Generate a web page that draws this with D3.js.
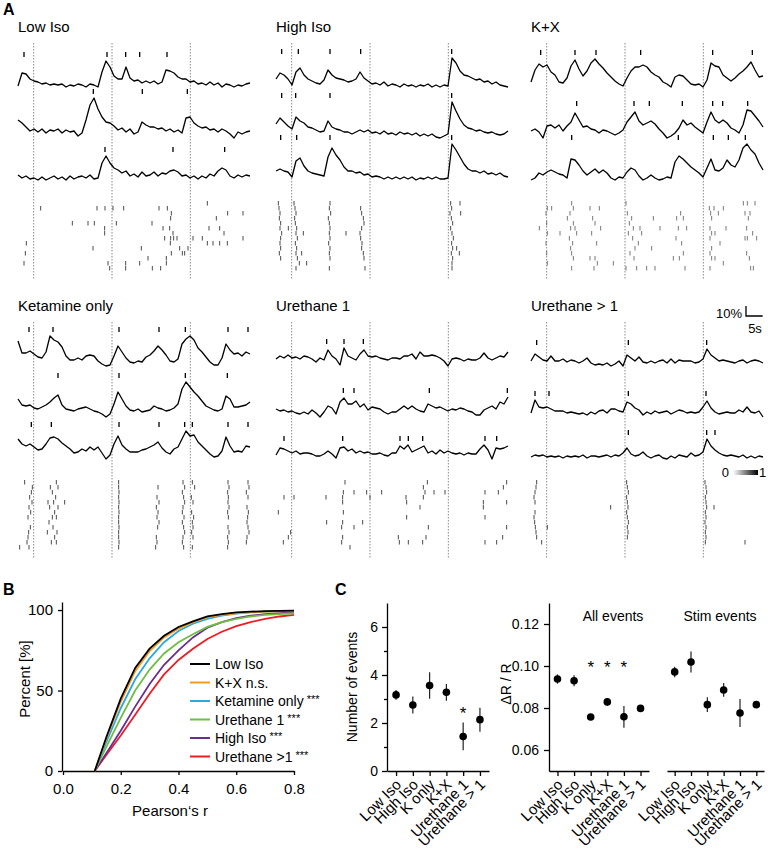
<!DOCTYPE html>
<html>
<head>
<meta charset="utf-8">
<script src="https://cdn.jsdelivr.net/npm/d3@7"></script>
<style>
  body { margin: 0; background: #fff; }
  svg { display: block; font-family: Arial, "Liberation Sans", Helvetica, sans-serif; }
  .axis path, .axis line { stroke: #000; stroke-width: 1.3; fill: none; }
  .axis text { fill: #000; font-family: Arial, "Liberation Sans", sans-serif; }
</style>
</head>
<body>
<svg id="fig" width="768" height="850"></svg>
<script>
// ---- panel A data (traces in % dR/R, one sample every 1.2 s) ----
var stimTimes = [4.7, 28.2, 51.7];
var panelTitles = ["Low Iso", "High Iso", "K+X", "Ketamine only", "Urethane 1", "Urethane > 1"];

var lowIsoTraces = [
  [0,13,12,7,5,4,2,3,1,2,1,2,-1,1,0,2,1,-1,2,1,-1,14,25,19,10,7,7,19,8,5,6,3,5,3,5,2,4,16,15,13,9,7,7,4,5,2,3,1,4,1,3,-1,2,1,-1,1,0,2,3],
  [10,7,3,-1,1,-2,1,-3,0,-1,1,-3,0,-2,-1,-6,-3,10,25,32,21,13,8,7,4,0,2,-2,1,-4,-2,8,5,3,3,1,2,-1,1,-2,0,-3,12,13,7,4,2,3,0,1,-2,1,-1,-4,-8,-2,-4,-2,-1],
  [4,1,3,0,1,-1,2,-1,1,3,0,2,-1,3,0,2,3,1,4,0,1,16,23,16,11,9,6,8,3,5,2,7,3,4,7,3,6,5,8,9,7,3,4,1,3,0,3,1,5,3,8,11,9,3,1,4,2,4,3]
];
var highIsoTraces = [
  [8,14,12,8,2,15,19,12,8,6,4,3,7,17,12,9,8,7,5,6,8,15,9,6,3,4,2,5,1,3,2,0,3,1,2,0,2,1,3,0,2,0,2,1,29,24,16,12,11,9,7,8,5,6,3,5,2,1,0],
  [11,17,13,9,6,18,14,12,8,7,5,3,4,14,8,6,5,3,3,1,3,5,3,5,2,3,1,4,1,2,0,3,1,2,0,2,-1,1,-1,1,-2,-3,-1,1,33,24,16,10,7,6,4,5,3,2,3,1,0,1,4],
  [8,10,8,7,2,18,21,13,8,6,5,4,3,22,31,24,19,12,8,8,6,7,4,5,2,3,2,0,2,0,2,0,2,0,2,-1,1,0,2,0,2,0,0,1,35,29,22,15,10,8,8,6,8,5,6,4,6,3,2]
];
var kxTraces = [
  [3,15,21,18,20,13,10,3,2,7,19,25,16,9,14,22,26,21,17,12,8,4,1,-1,7,14,18,18,20,18,13,10,8,3,1,-2,8,10,9,5,1,0,1,-2,5,22,19,18,10,7,4,7,11,14,18,23,15,8,9],
  [2,4,1,-5,7,8,5,8,2,7,11,20,13,6,7,4,3,0,3,2,0,-2,0,3,11,16,21,12,8,10,12,9,4,0,-5,-3,0,5,13,8,10,6,3,0,11,21,13,10,13,10,5,3,0,8,23,22,17,12,6],
  [0,2,7,5,8,10,8,6,5,2,21,20,15,9,5,8,11,7,10,7,2,0,3,2,8,12,10,4,0,2,5,2,0,1,3,2,18,24,21,17,13,10,7,3,12,21,10,9,12,20,15,13,20,32,36,30,26,17,10]
];
var ketTraces = [
  [24,12,12,14,11,8,7,13,29,25,23,18,9,5,5,7,5,9,10,9,4,1,-1,0,9,19,13,7,3,2,4,3,8,10,14,19,15,10,4,3,6,21,26,29,25,17,13,8,3,0,0,7,21,15,11,12,9,13,11],
  [15,9,8,9,6,5,7,9,12,16,19,9,5,4,3,5,6,7,5,3,2,0,-3,0,10,22,15,8,4,3,5,2,3,4,8,6,5,3,4,6,10,25,32,27,22,18,13,8,6,4,3,5,18,15,7,7,8,9,12],
  [20,15,13,15,12,9,10,15,21,22,20,16,13,10,6,7,10,8,12,9,12,6,0,4,15,23,14,10,7,7,7,9,10,12,14,17,11,7,5,10,12,20,28,23,24,17,13,9,5,2,3,8,22,13,7,8,7,13,12]
];
var ure1Traces = [
  [0,3,1,4,1,2,0,3,2,0,-3,1,-1,9,3,0,-6,11,3,1,-1,5,9,3,2,3,1,0,-1,1,1,0,3,3,5,0,7,3,3,4,3,1,-2,-7,0,1,0,-2,0,-1,-1,1,6,1,-1,1,3,2,7],
  [3,1,2,0,1,-1,-2,0,-2,2,-1,-5,0,6,4,-2,10,14,8,8,11,5,8,2,5,4,3,0,-2,0,0,3,6,3,6,3,1,0,8,6,4,5,3,1,3,2,4,3,1,0,-3,-3,2,4,6,3,10,8,15],
  [1,8,7,5,3,5,2,3,3,2,0,0,2,5,2,-2,8,9,5,7,3,5,3,4,2,2,3,1,0,3,3,10,7,11,4,6,8,10,3,5,2,6,3,5,3,2,3,1,3,2,2,7,11,6,-3,8,7,8,10]
];
var ureMTraces = [
  [2,9,6,3,2,7,2,2,4,1,3,2,0,2,5,0,-2,-1,-2,0,-3,-1,2,-3,8,5,2,6,1,0,2,0,2,3,0,4,0,3,2,2,2,0,1,4,14,8,5,2,3,2,1,0,2,3,0,2,3,2,0],
  [2,15,8,7,8,6,4,4,4,2,3,2,1,2,0,3,1,4,5,2,6,6,4,3,13,11,7,5,0,3,1,4,2,3,4,1,3,5,4,2,3,2,3,8,14,7,3,1,2,3,2,2,5,3,8,3,2,4,-2],
  [1,3,2,3,1,2,1,2,0,2,1,2,1,3,0,2,2,1,2,3,1,3,2,5,10,4,2,3,6,2,0,2,3,0,-1,2,0,3,2,1,5,2,3,6,19,12,8,5,3,2,3,2,1,3,0,2,0,2,1]
];

// detected events per trace (s)
var lowIsoEvents = [[1.8, 26.7, 32.3, 36.5, 44.7], [22.6, 37.3, 50.8], [26.1, 46.5, 62.0]];
var highIsoEvents = [[1.7, 6.7, 16.2, 25.4, 52.7], [1.7, 5.9, 16.2, 52.7], [1.4, 6.2, 16.2, 52.7]];
var kxEvents = [[2.9, 13.2, 19.5, 32.9, 54.5, 66.4], [13.7, 30.9, 35.5, 45.4, 54.5, 57.5, 65.0], [12.2, 44.2, 54.7, 59.2, 64.3]];
var ketEvents = [[3.3, 10.5, 30.3, 42.3, 50.2, 63.0, 69.0], [12.0, 30.3, 50.2, 62.8], [4.0, 10.0, 30.3, 42.3, 50.0, 52.3, 63.0, 69.0]];
var ure1Events = [[15.2, 20.4, 26.2], [20.2, 23.4, 46.0, 69.4], [2.4, 20.0, 37.2, 39.7, 44.0, 62.7, 66.2]];
var ureMEvents = [[1.7, 29.2, 52.7], [1.2, 5.4, 29.2, 52.5], [29.2, 52.7, 55.2]];

// raster of all cells: [time s, cell row]
var lowIsoRaster = [[6.8,1],[23.7,1],[26.1,1],[28.5,1],[31.7,1],[42.3,1],[44.8,1],[56.8,0],[46.0,2],[62.9,2],[67.5,2],[45.8,3],[59.5,3],[16.3,4],[21.0,4],[22.9,4],[29.5,4],[40.2,4],[57.3,5],[60.5,5],[43.5,5],[45.5,5],[26.0,5],[26.0,6],[46.5,6],[61.8,6],[44.0,7],[45.8,7],[46.7,7],[47.7,7],[52.5,7],[55.3,7],[67.5,7],[2.5,8],[56.8,8],[58.5,8],[60.5,8],[62.8,8],[45.7,8],[22.5,9],[37.0,9],[48.5,9],[51.0,9],[2.2,10],[46.0,10],[49.3,10],[50.0,10],[39.0,11],[44.5,11],[1.8,12],[27.0,12],[36.5,12],[44.5,12],[32.3,13],[32.3,12],[40.3,13],[42.8,13],[27.5,13]];
var highIsoRaster = [[0.7,0],[0.9,1],[1.2,2],[1.0,3],[1.4,4],[1.2,5],[1.7,6],[1.4,7],[1.2,8],[1.4,9],[1.0,10],[1.4,11],
  [5.4,0],[5.7,1],[6.0,2],[5.6,3],[5.8,4],[6.2,5],[6.0,6],[6.4,7],[5.8,8],[6.2,9],[6.0,10],[6.4,11],[7.0,12],[6.0,13],[8.2,6],[7.7,10],[9.2,12],[3.7,5],
  [16.2,0],[16.0,1],[16.4,2],[15.7,3],[16.0,4],[16.2,5],[16.0,6],[16.2,7],[15.8,8],[16.2,9],[16.0,10],[16.2,11],[16.0,13],[21.0,6],
  [25.4,1],[25.7,2],[26.2,3],[26.4,4],[25.7,5],[25.2,6],[25.4,7],[25.8,8],[25.7,9],[26.2,10],[26.4,11],[26.7,13],
  [52.4,0],[52.7,1],[52.2,2],[52.6,3],[53.0,4],[52.4,5],[52.8,6],[53.2,7],[52.7,8],[53.0,9],[52.6,10],[53.0,11],[52.8,12],[52.8,13],
  [55.2,0],[55.4,2],[54.2,9],[55.0,10]];
var kxRaster = [[4.9,1],[6.2,1],[4.5,2],[4.7,4],[4.9,6],[4.5,8],[4.7,10],[4.9,12],[2.5,5],
  [12.2,0],[12.7,1],[11.7,2],[10.9,3],[12.7,4],[11.9,5],[13.2,5],[13.7,6],[11.5,7],[12.5,8],[11.9,9],[12.2,10],[12.7,11],[12.2,13],[8.7,6],
  [17.7,1],[18.5,3],[20.5,1],[19.2,4],[18.2,6],[19.7,8],[17.7,11],[19.2,11],[19.9,12],[24.7,12],[20.9,5],[18.9,13],
  [28.5,0],[28.9,2],[30.2,3],[29.5,4],[30.7,5],[29.2,6],[30.5,7],[31.2,9],[29.7,10],[30.9,11],[31.7,13],[28.5,13],[32.7,5],[33.2,6],[32.2,8],[36.7,3],[36.2,9],[37.2,13],[34.7,13],
  [38.7,5],[43.7,3],[44.9,2],[45.7,3],[44.2,5],[43.5,7],[45.2,8],[45.7,10],[44.5,11],[46.2,13],[42.7,11],[46.7,5],
  [53.5,1],[53.9,2],[54.2,3],[53.7,5],[54.2,6],[53.7,7],[54.2,9],[53.7,10],[54.2,11],[53.7,13],[54.9,1],[56.2,2],[57.7,1],[55.2,6],[56.7,8],[55.2,11],[57.7,12],[58.5,5],
  [63.7,0],[64.9,0],[67.2,0],[64.2,2],[65.7,2],[65.2,3],[64.7,5],[64.2,7],[64.9,7],[67.7,7],[66.5,6],[64.7,10],[65.5,11],[65.9,13],[66.7,13]];
var ketRaster = [[2.0,0],[4.3,1],[4.0,2],[3.5,3],[4.2,4],[3.3,5],[3.8,6],[3.0,7],[3.7,9],[3.2,10],[3.0,11],[2.7,12],[0.5,13],[3.3,13],
  [11.5,0],[9.7,1],[12.0,1],[10.3,2],[11.3,3],[9.0,4],[10.7,4],[12.0,5],[9.5,5],[11.0,6],[10.3,7],[11.5,7],[9.3,8],[10.5,9],[11.7,10],[8.8,10],[11.0,11],[10.0,12],[11.5,12],[14.0,4],
  [30.2,0],[30.2,1],[30.3,2],[30.2,3],[30.3,4],[30.2,5],[30.3,6],[30.2,7],[30.2,8],[30.3,9],[30.2,10],[30.2,11],[30.3,12],[30.2,13],
  [42.0,1],[41.7,3],[42.3,4],[41.5,5],[42.0,6],[41.7,7],[42.3,8],[41.9,9],[41.5,11],[41.7,12],[41.3,13],
  [49.5,0],[50.0,1],[49.3,2],[49.7,3],[50.0,4],[49.5,5],[49.3,6],[49.8,7],[49.3,8],[49.7,9],[50.0,10],[49.5,11],[49.3,12],[49.7,13],
  [52.3,0],[53.0,1],[52.0,3],[52.5,4],[52.1,6],[52.7,7],[52.3,8],[52.5,9],[52.1,10],[52.5,11],[52.3,13],
  [63.0,0],[63.3,1],[62.9,2],[63.1,3],[63.0,4],[63.3,5],[62.9,6],[63.1,7],[63.0,9],[63.3,10],[62.9,11],[63.1,12],[62.9,13],
  [69.0,0],[69.3,1],[68.5,2],[69.0,3],[68.7,5],[69.1,6],[68.9,7],[68.7,8],[69.0,9],[69.3,10],[68.7,11],[68.5,12]];
var ure1Raster = [[20.7,0],[20.2,2],[23.4,2],[27.2,2],[31.7,2],[44.2,1],[45.4,0],[47.4,2],[50.7,2],[62.7,2],[66.7,2],[68.2,1],[69.2,0],
  [2.4,3],[5.4,3],[15.0,3],[20.0,3],[20.0,4],[28.2,3],[39.0,3],[39.2,4],[43.2,5],[44.2,3],[44.7,2],[62.2,4],[62.2,5],[69.2,4],
  [0.7,6],[20.2,6],[39.2,7],[62.7,7],
  [15.2,8],[20.0,8],[19.7,9],[23.4,9],[26.0,8],[45.7,9],[69.2,9],[36.7,11],
  [4.4,10],[3.7,11],[2.2,12],[20.0,11],[19.7,12],[22.2,13],[37.0,12],[39.7,12],[44.0,12],[45.0,11],[62.7,12],[66.2,12],[68.0,11]];
var ureMRaster = [[1.7,0],[1.5,1],[1.2,2],[0.9,3],[1.2,4],[1.2,6],[0.9,7],[1.1,8],[1.3,9],[1.5,10],[1.7,11],[4.9,9],[3.2,12],
  [28.7,0],[28.9,1],[29.2,2],[28.7,3],[28.9,4],[29.1,5],[28.7,6],[28.9,7],[29.2,8],[28.9,9],[29.1,10],[28.9,11],[23.9,5],
  [52.2,0],[52.5,1],[52.7,2],[52.3,3],[52.5,4],[52.7,5],[52.3,6],[52.5,7],[52.2,8],[52.5,9],[52.3,10],[52.5,11],[52.3,12],[54.9,5],[64.2,12]];

// ---- panel B data: cumulative distribution of Pearson's r ----
var cdfR = [0.11, 0.15, 0.2, 0.25, 0.3, 0.35, 0.4, 0.45, 0.5, 0.55, 0.6, 0.65, 0.7, 0.75, 0.8];
var cdfNames = ["Low Iso", "K+X", "Ketamine only", "Urethane 1", "High Iso", "Urethane >1"];
var cdfSig = ["", "n.s.", "***", "***", "***", "***"];
var cdfLowIso = [0, 21, 45, 64, 76, 84, 89.5, 93, 96, 97.5, 98.5, 99, 99.3, 99.5, 99.7];
var cdfKX = [0, 20, 43, 62, 74.5, 83, 88.5, 92.5, 95.5, 97, 98, 98.7, 99, 99.2, 99.4];
var cdfKet = [0, 18, 39, 57, 70, 80, 87, 91.5, 94.5, 96.5, 97.8, 98.5, 99, 99.3, 99.5];
var cdfUre1 = [0, 15, 33, 50, 63, 73, 80, 85, 89.5, 92.5, 94.5, 96, 97, 97.5, 98];
var cdfHighIso = [0, 11, 25, 40, 54, 66, 75, 83, 89, 92.5, 95, 96.5, 97.5, 98, 98.5];
var cdfUreM = [0, 10, 22, 35, 48, 60, 69, 76, 82, 86.5, 90, 92.5, 94.5, 96, 97];

// ---- panel C data ----
var categories = ["Low Iso", "High Iso", "K only", "K+X", "Urethane 1", "Urethane > 1"];
var eventsMean = [3.17, 2.75, 3.56, 3.28, 1.44, 2.14];
var eventsErr = [0.2, 0.35, 0.55, 0.35, 0.58, 0.5];
var eventsStars = [["Urethane 1", 2.62]];
var allAmpMean = [0.0938, 0.0930, 0.0757, 0.0829, 0.0758, 0.0798];
var allAmpErr = [0.0022, 0.0026, 0.0015, 0.0018, 0.0052, 0.0008];
var allAmpStars = [["K only", 0.1020], ["K+X", 0.1020], ["Urethane 1", 0.1020]];
var stimAmpMean = [0.0972, 0.1019, 0.0816, 0.0886, 0.0776, 0.0816];
var stimAmpErr = [0.0025, 0.005, 0.0035, 0.0033, 0.0067, 0.0008];

// ================== drawing ==================
var svg = d3.select("#fig");

function panelLabel(txt, x, y) {
  svg.append("text").attr("x", x).attr("y", y).attr("font-size", 16).attr("font-weight", "bold").text(txt);
}

// ---------- A ----------
panelLabel("A", 3, 15);

var panels = [
  { traces: lowIsoTraces, events: lowIsoEvents, raster: lowIsoRaster },
  { traces: highIsoTraces, events: highIsoEvents, raster: highIsoRaster },
  { traces: kxTraces, events: kxEvents, raster: kxRaster },
  { traces: ketTraces, events: ketEvents, raster: ketRaster },
  { traces: ure1Traces, events: ure1Events, raster: ure1Raster },
  { traces: ureMTraces, events: ureMEvents, raster: ureMRaster }
];

var colX = [18, 276, 531], rowTop = [0, 279];
var dt = 1.2;
var xT = d3.scaleLinear().domain([0, 69.6]).range([0, 232]);
var pxPerPct = 1;
var traceBottom = [87, 138, 180];
var rasterTop = 203, rasterRowH = 5;

panels.forEach(function(p, pi) {
  var g = svg.append("g")
    .attr("transform", "translate(" + colX[pi % 3] + "," + rowTop[Math.floor(pi / 3)] + ")");

  g.append("text").attr("x", 0).attr("y", 32).attr("font-size", 15).text(panelTitles[pi]);

  g.selectAll(".stim").data(stimTimes).enter().append("line")
    .attr("x1", function(d) { return xT(d); }).attr("x2", function(d) { return xT(d); })
    .attr("y1", 43).attr("y2", 279)
    .attr("stroke", "#8a8a8a").attr("stroke-width", 1).attr("stroke-dasharray", "1.5,1.5");

  p.traces.forEach(function(vals, k) {
    var lo = d3.min(vals), hi = d3.max(vals);
    var y = d3.scaleLinear().domain([lo, lo + 10]).range([traceBottom[k], traceBottom[k] - 10 * pxPerPct]);
    g.append("path").datum(vals)
      .attr("d", d3.line().x(function(d, i) { return xT(i * dt); }).y(function(d) { return y(d); }))
      .attr("fill", "none").attr("stroke", "#000").attr("stroke-width", 1.3).attr("stroke-linejoin", "round");
    var tickY = y(hi) - 4;
    g.selectAll(null).data(p.events[k]).enter().append("line")
      .attr("x1", function(d) { return xT(d); }).attr("x2", function(d) { return xT(d); })
      .attr("y1", tickY - 5).attr("y2", tickY)
      .attr("stroke", "#000").attr("stroke-width", 1.3);
  });

  g.selectAll(null).data(p.raster).enter().append("line")
    .attr("x1", function(d) { return xT(d[0]); }).attr("x2", function(d) { return xT(d[0]); })
    .attr("y1", function(d) { return rasterTop + d[1] * rasterRowH - 2; })
    .attr("y2", function(d) { return rasterTop + d[1] * rasterRowH + 2.5; })
    .attr("stroke", pi === 2 ? "#777" : "#4a4a4a").attr("stroke-width", 1);
});

// scale bar (10 %, 5 s)
var sbX = 746, sbY = 316;
svg.append("path")
  .attr("d", "M" + sbX + "," + (sbY - 10 * pxPerPct) + "V" + sbY + "H" + (sbX + xT(5) - xT(0)))
  .attr("fill", "none").attr("stroke", "#000").attr("stroke-width", 1.3);
svg.append("text").attr("x", sbX - 4).attr("y", sbY + 2).attr("text-anchor", "end").attr("font-size", 13).text("10%");
svg.append("text").attr("x", sbX + 9).attr("y", sbY + 17).attr("text-anchor", "middle").attr("font-size", 13).text("5s");

// grey colour bar
var grad = svg.append("defs").append("linearGradient").attr("id", "gbar");
grad.append("stop").attr("offset", "0%").attr("stop-color", "#fff");
grad.append("stop").attr("offset", "100%").attr("stop-color", "#000");
svg.append("rect").attr("x", 733).attr("y", 470).attr("width", 25).attr("height", 5).attr("fill", "url(#gbar)");
svg.append("text").attr("x", 729).attr("y", 477).attr("text-anchor", "end").attr("font-size", 13).text("0");
svg.append("text").attr("x", 759).attr("y", 477).attr("font-size", 13).text("1");

// ---------- B ----------
panelLabel("B", 3, 595);
var xB = d3.scaleLinear().domain([0, 0.8]).range([63, 294]);
var yB = d3.scaleLinear().domain([0, 105]).range([771, 602]);

svg.append("g").attr("class", "axis").attr("transform", "translate(0,771)")
  .call(d3.axisBottom(xB).tickValues([0, 0.2, 0.4, 0.6, 0.8]).tickFormat(d3.format(".1f")).tickSize(4).tickSizeOuter(0).tickPadding(8))
  .selectAll("text").attr("font-size", 15);
svg.append("g").attr("class", "axis").attr("transform", "translate(62,0)")
  .call(d3.axisLeft(yB).tickValues([0, 50, 100]).tickFormat(d3.format("d")).tickSize(4).tickSizeOuter(0).tickPadding(5))
  .selectAll("text").attr("font-size", 15);

svg.append("text").attr("transform", "translate(30,679) rotate(-90)").attr("text-anchor", "middle")
  .attr("font-size", 15).text("Percent [%]");
svg.append("text").attr("x", 170).attr("y", 816).attr("text-anchor", "middle")
  .attr("font-size", 15).text("Pearson\u2018s r");

var cdfSeries = [cdfLowIso, cdfKX, cdfKet, cdfUre1, cdfHighIso, cdfUreM];
var cdfColors = ["#000000", "#f49c1e", "#27a9e1", "#6fbe44", "#6a2c90", "#ec1c24"];
var cdfLine = d3.line().x(function(d, i) { return xB(cdfR[i]); }).y(function(d) { return yB(d); });
for (var s = cdfSeries.length - 1; s >= 0; s--) {
  svg.append("path").datum(cdfSeries[s]).attr("d", cdfLine)
    .attr("fill", "none").attr("stroke", cdfColors[s]).attr("stroke-width", 1.8);
}
var legY = d3.scaleLinear().domain([0, 5]).range([664, 756.5]);
cdfNames.forEach(function(n, i) {
  var yy = legY(i);
  svg.append("line").attr("x1", 190).attr("x2", 210).attr("y1", yy).attr("y2", yy)
    .attr("stroke", cdfColors[i]).attr("stroke-width", 2);
  var t = svg.append("text").attr("x", 215).attr("y", yy + 5).attr("font-size", 14).text(n);
  if (cdfSig[i] === "n.s.") {
    t.append("tspan").text(" n.s.");
  } else if (cdfSig[i]) {
    t.append("tspan").attr("font-size", 11).attr("dy", -3).text(" " + cdfSig[i]);
  }
});

// ---------- C ----------
panelLabel("C", 335, 595);

function catAxis(scale) {
  var ax = svg.append("g").attr("class", "axis").attr("transform", "translate(0,771)")
    .call(d3.axisBottom(scale).tickSize(5).tickSizeOuter(0));
  ax.selectAll("text")
    .attr("font-size", 15).attr("x", 0).attr("y", 0).attr("dy", "0.35em")
    .attr("transform", "translate(2,11) rotate(-45)").style("text-anchor", "end");
  return ax;
}

function dots(xs, ys, means, errs) {
  svg.selectAll(null).data(categories).enter().append("line")
    .attr("x1", function(d) { return xs(d); }).attr("x2", function(d) { return xs(d); })
    .attr("y1", function(d, i) { return ys(means[i] - errs[i]); })
    .attr("y2", function(d, i) { return ys(means[i] + errs[i]); })
    .attr("stroke", "#222").attr("stroke-width", 1.2);
  svg.selectAll(null).data(categories).enter().append("circle")
    .attr("cx", function(d) { return xs(d); })
    .attr("cy", function(d, i) { return ys(means[i]); })
    .attr("r", 3.8).attr("fill", "#000");
}

function stars(xs, ys, list) {
  svg.selectAll(null).data(list).enter().append("text")
    .attr("x", function(d) { return xs(d[0]); }).attr("y", function(d) { return ys(d[1]) + 11; })
    .attr("text-anchor", "middle").attr("font-size", 17).text("*");
}

// C left: number of events
var xC1 = d3.scalePoint().domain(categories).range([387, 489]).padding(0.54);
var yC1 = d3.scaleLinear().domain([0, 7]).range([771, 603]);
svg.append("g").attr("class", "axis").attr("transform", "translate(387,0)")
  .call(d3.axisLeft(yC1).tickValues([0, 2, 4, 6]).tickFormat(d3.format("d")).tickSize(5).tickSizeOuter(0).tickPadding(4))
  .selectAll("text").attr("font-size", 14);
svg.append("g").attr("class", "axis").attr("transform", "translate(387,0)")
  .call(d3.axisLeft(yC1).tickValues([1, 3, 5]).tickSize(3).tickFormat(""))
  .select(".domain").remove();
catAxis(xC1);
dots(xC1, yC1, eventsMean, eventsErr);
stars(xC1, yC1, eventsStars);
svg.append("text").attr("transform", "translate(357,687) rotate(-90)").attr("text-anchor", "middle")
  .attr("font-size", 14).text("Number of events");

// C right: amplitude
var yC2 = d3.scaleLinear().domain([0.05, 0.13]).range([771, 603]);
var xAll = d3.scalePoint().domain(categories).range([549, 649]).padding(0.51);
var xStim = d3.scalePoint().domain(categories).range([667, 764]).padding(0.47);
svg.append("g").attr("class", "axis").attr("transform", "translate(549,0)")
  .call(d3.axisLeft(yC2).tickValues([0.06, 0.08, 0.10, 0.12]).tickFormat(d3.format(".2f")).tickSize(5).tickSizeOuter(0).tickPadding(5))
  .selectAll("text").attr("font-size", 14);
catAxis(xAll);
catAxis(xStim);
dots(xAll, yC2, allAmpMean, allAmpErr);
dots(xStim, yC2, stimAmpMean, stimAmpErr);
stars(xAll, yC2, allAmpStars);
svg.append("text").attr("transform", "translate(511,684) rotate(-90)").attr("text-anchor", "middle")
  .attr("font-size", 14).text("\u0394R / R");
svg.append("text").attr("x", 613).attr("y", 621).attr("text-anchor", "middle").attr("font-size", 14).text("All events");
svg.append("text").attr("x", 720).attr("y", 621).attr("text-anchor", "middle").attr("font-size", 14).text("Stim events");
</script>
</body>
</html>
